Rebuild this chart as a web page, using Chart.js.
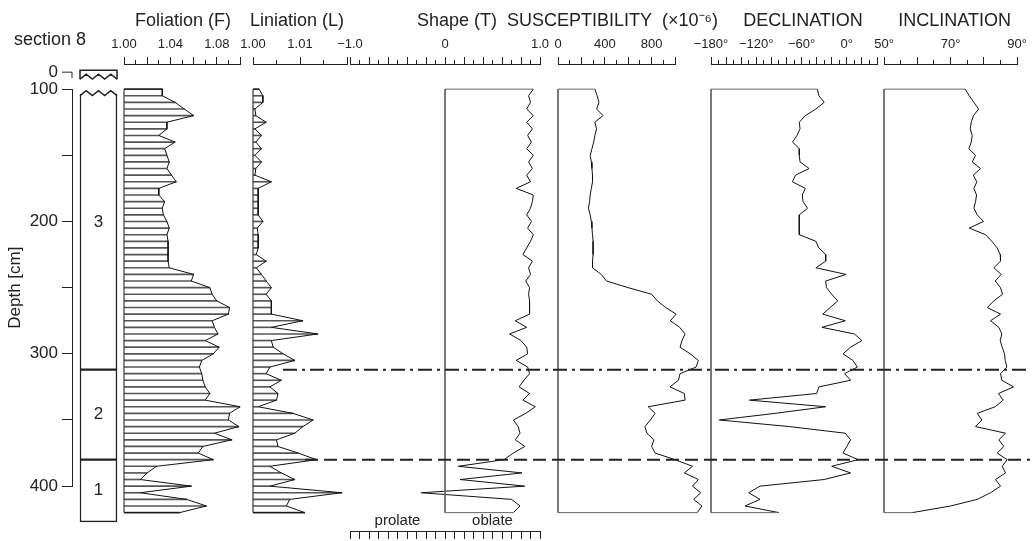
<!DOCTYPE html>
<html>
<head>
<meta charset="utf-8">
<script src="https://cdn.jsdelivr.net/npm/chart.js@4.4.0/dist/chart.umd.min.js"></script>
<style>
  html, body { margin: 0; padding: 0; background: #fff; }
  #wrap { position: relative; width: 1032px; height: 541px; overflow: hidden; }
  #wrap canvas { position: absolute; left: 0; top: 0; }
</style>
</head>
<body>
<div id="wrap"></div>
<script>
// sample depths (cm)
const depths = [100, 105, 110, 115, 120, 125, 130, 135, 140, 145, 150, 155, 160, 165, 170, 175,
  180, 185, 190, 195, 200, 205, 210, 215, 220, 225, 230, 235, 240, 245, 250, 255, 260, 265, 270,
  275, 280, 285, 290, 295, 300, 305, 310, 315, 320, 325, 330, 335, 340, 345, 350, 355, 360, 365,
  370, 375, 380, 385, 390, 395, 400, 405, 410, 415, 420];

const foliation = [1.033, 1.033, 1.044, 1.052, 1.060, 1.037, 1.037, 1.030, 1.044, 1.035, 1.037,
  1.039, 1.037, 1.041, 1.045, 1.030, 1.030, 1.035, 1.033, 1.034, 1.037, 1.039, 1.037, 1.038, 1.038,
  1.038, 1.038, 1.039, 1.060, 1.058, 1.074, 1.076, 1.080, 1.091, 1.090, 1.076, 1.078, 1.081, 1.070,
  1.082, 1.077, 1.067, 1.065, 1.067, 1.068, 1.070, 1.074, 1.070, 1.100, 1.091, 1.090, 1.099, 1.078,
  1.093, 1.068, 1.064, 1.077, 1.028, 1.020, 1.014, 1.058, 1.014, 1.054, 1.071, 1.048];

const lineation = [1.0013, 1.0021, 1.0021, 1.0004, 1.0006, 1.0028, 1.0004, 1.0018, 1.0006, 1.0018,
  1.0004, 1.0018, 1.0006, 1.0004, 1.0039, 1.0011, 1.0011, 1.0011, 1.0011, 1.0011, 1.0021, 1.0009,
  1.0011, 1.0011, 1.0011, 1.0007, 1.0028, 1.0007, 1.0018, 1.0028, 1.0039, 1.0028, 1.0039, 1.0039,
  1.0039, 1.0106, 1.0039, 1.0138, 1.0039, 1.0043, 1.0064, 1.0089, 1.0036, 1.0028, 1.0060, 1.0036,
  1.0053, 1.0050, 1.0011, 1.0085, 1.0128, 1.0106, 1.0089, 1.0050, 1.0053, 1.0096, 1.0135, 1.0036,
  1.0060, 1.0089, 1.0036, 1.0189, 1.0078, 1.0071, 1.0110];

const shapeT = [0.93, 0.88, 0.90, 0.86, 0.93, 0.86, 0.92, 0.87, 0.91, 0.86, 0.93, 0.88, 0.92, 0.86,
  0.90, 0.75, 0.93, 0.92, 0.90, 0.86, 0.91, 0.87, 0.93, 0.90, 0.86, 0.82, 0.92, 0.88, 0.90, 0.85,
  0.89, 0.88, 0.89, 0.89, 0.89, 0.74, 0.86, 0.68, 0.80, 0.86, 0.87, 0.75, 0.87, 0.89, 0.83, 0.78,
  0.89, 0.82, 0.95, 0.85, 0.72, 0.77, 0.79, 0.74, 0.84, 0.72, 0.62, 0.14, 0.81, 0.16, 0.84, -0.25,
  0.70, 0.79, 0.72];

const susceptibility = [315, 335, 350, 330, 385, 315, 330, 315, 305, 290, 275, 285, 290, 295, 295,
  285, 275, 270, 260, 275, 285, 290, 295, 300, 300, 300, 295, 295, 370, 415, 600, 800, 850, 920,
  1010, 960, 1040, 1086, 1060, 1043, 1130, 1200, 1180, 1043, 1029, 957, 1080, 1086, 771, 830, 790,
  743, 760, 820, 800, 830, 1000, 1150, 1080, 1200, 1150, 1220, 1160, 1230, 1190];

const declination = [-39, -37, -30, -41, -55, -63, -62, -66, -72, -63, -63, -62, -50, -68, -72,
  -55, -59, -58, -52, -63, -63, -63, -63, -41, -37, -28, -28, -41, -1, -28, -27, -20, -12, -22, -32,
  -2, -33, 10, 20, 5, -5, 8, 14, -3, 5, -37, -40, -129, -28, -95, -169, -76, -2, 5, 0, -5, 15, -20,
  5, -30, -115, -130, -115, -135, -90];

const inclination = [74.4, 75.6, 77.0, 78.4, 76.9, 76.2, 75.9, 76.5, 76.2, 75.5, 77.5, 76.5, 79.0,
  76.8, 77.9, 77.0, 77.8, 77.5, 77.0, 78.0, 79.9, 75.6, 80.5, 82.4, 84.0, 84.9, 85.0, 83.0, 85.2,
  83.4, 85.0, 85.6, 83.0, 81.0, 85.0, 82.0, 84.5, 85.4, 84.9, 85.5, 86.2, 86.4, 86.9, 85.0, 85.4,
  88.9, 84.4, 85.8, 83.4, 78.0, 79.4, 77.5, 86.5, 84.5, 86.0, 84.0, 87.0, 85.5, 86.5, 83.5, 85.0,
  82.0, 78.0, 70.0, 58.5];

// lithological units of section 8
const unitNames = ['3', '2', '1'];
const unitTops = [100, 312, 380];
const unitBases = [312, 380, 427];

// labelled ticks on each top axis
const foliationTicks = [1.00, 1.04, 1.08];
const lineationTicks = [1.00, 1.01];
const shapeTicks = [-1.0, 0, 1.0];
const suscTicks = [0, 400, 800];
const declTicks = [-180, -120, -60, 0];
const inclTicks = [50, 70, 90];
const shapeEndLabels = ['prolate', 'oblate'];
const shapeEndValues = [-0.5, 0.5];

// ---- layout ----
const W = 1032, H = 541;
const PX_PER_CM = 397 / 300;
const AXIS_Y = 64;
const PANEL_MIN = 81, PANEL_MAX = 427;
const yOf = d => AXIS_Y + (d - PANEL_MIN) * PX_PER_CM;
const PANEL_BOTTOM = yOf(PANEL_MAX);
const FONT = '"Liberation Sans", Arial, Helvetica, sans-serif';

Chart.defaults.font.family = FONT;
Chart.defaults.color = '#222';

const wrap = document.getElementById('wrap');
function newCtx() {
  const c = document.createElement('canvas');
  c.width = W; c.height = H;
  wrap.appendChild(c);
  return c.getContext('2d');
}

const near = (list, v) => list.some(t => Math.abs(t - v) < 1e-6);
const minus = s => String(s).replace('-', '\u2212');
const topD = depths[0], botD = depths[depths.length - 1];
const pts = vals => depths.map((d, i) => ({x: vals[i], y: d}));

function outlineClosed(vals, base) {
  return [{x: base, y: topD}, ...pts(vals), {x: base, y: botD}, {x: base, y: topD}];
}
function frame(vals, base) {
  return [{x: vals[0], y: topD}, {x: base, y: topD}, {x: base, y: botD}, {x: vals[vals.length - 1], y: botD}];
}

// panel heading, centred over the axis (titles are wider than some axes)
const panelTitle = {
  id: 'panelTitle',
  afterDraw(chart, args, opts) {
    const {ctx, chartArea} = chart;
    ctx.save();
    ctx.font = '18px ' + FONT;
    ctx.fillStyle = '#222';
    ctx.textAlign = 'center';
    ctx.textBaseline = 'middle';
    ctx.fillText(opts.text, (chartArea.left + chartArea.right) / 2 + (opts.shift || 0), 21);
    ctx.restore();
  }
};

function panel(o) {
  return new Chart(newCtx(), {
    type: 'line',
    data: {datasets: o.datasets},
    options: {
      responsive: false,
      animation: false,
      indexAxis: 'y',
      layout: {padding: {left: o.left, right: W - o.right, top: 0, bottom: H - PANEL_BOTTOM}},
      plugins: {
        legend: {display: false}, tooltip: {enabled: false},
        panelTitle: {text: o.title, shift: o.shift}
      },
      elements: {point: {radius: 0}, line: {borderWidth: 1, tension: 0}},
      scales: {
        x: {
          type: 'linear', position: 'top', min: o.min, max: o.max,
          afterFit: s => { s.height = AXIS_Y; },
          border: {color: '#222', width: 1},
          grid: {
            drawOnChartArea: false, tickLength: 7, tickColor: '#222', tickWidth: 1,
            tickBorderDash: c => o.tall(c.tick.value) ? [] : [0, 3, 4, 20]
          },
          ticks: {
            stepSize: o.step, autoSkip: false, maxRotation: 0, padding: 5,
            font: {size: 13}, color: '#222',
            callback: v => near(o.labels, v) ? o.fmt(v) : ''
          }
        },
        y: {type: 'linear', reverse: true, offset: false, min: PANEL_MIN, max: PANEL_MAX, display: false}
      }
    },
    plugins: [panelTitle]
  });
}

const hatch = (vals, base) => ({
  type: 'bar', data: pts(vals), base: base, barThickness: 1,
  backgroundColor: '#555', borderWidth: 0, clip: false, order: 2
});
const curve = data => ({type: 'line', data, borderColor: '#111', borderWidth: 1, clip: false, order: 1});
const frameSet = data => ({type: 'line', data, borderColor: '#666', borderWidth: 1, clip: false, order: 1});

// Foliation
panel({
  left: 124, right: 240, min: 1.00, max: 1.10, step: 0.01,
  tall: v => Math.round(v * 100) % 2 === 0, labels: foliationTicks, fmt: v => v.toFixed(2),
  title: 'Foliation (F)', shift: 1,
  datasets: [hatch(foliation, 1), curve(outlineClosed(foliation, 1))]
});
// Lineation
panel({
  left: 253, right: 347, min: 1.00, max: 1.02, step: 0.005,
  tall: v => Math.round(v * 200) % 2 === 0, labels: lineationTicks, fmt: v => v.toFixed(2),
  title: 'Liniation (L)', shift: -3,
  datasets: [hatch(lineation, 1), curve(outlineClosed(lineation, 1))]
});
// Shape
panel({
  left: 350, right: 540, min: -1, max: 1, step: 0.1,
  tall: v => Math.round(v * 10) % 2 === 0, labels: shapeTicks,
  fmt: v => Math.abs(v) < 1e-6 ? '0' : minus(v.toFixed(1)),
  title: 'Shape (T)', shift: 12,
  datasets: [frameSet(frame(shapeT, 0)), curve(pts(shapeT))]
});
// Susceptibility
panel({
  left: 558, right: 675, min: 0, max: 1000, step: 100,
  tall: v => Math.round(v / 100) % 2 === 0, labels: suscTicks, fmt: v => String(v),
  title: 'SUSCEPTIBILITY  (\u00d710\u207b\u2076)', shift: -4,
  datasets: [frameSet(frame(susceptibility, 0)), curve(pts(susceptibility))]
});
// Declination
panel({
  left: 711, right: 877, min: -180, max: 40, step: 10,
  tall: v => Math.round(v / 10) % 2 === 0, labels: declTicks, fmt: v => minus(v) + '\u00b0',
  title: 'DECLINATION', shift: 9,
  datasets: [frameSet(frame(declination, -180)), curve(pts(declination))]
});
// Inclination
panel({
  left: 884, right: 1018, min: 50, max: 90, step: 5,
  tall: v => Math.round(v) % 10 === 0, labels: inclTicks, fmt: v => v + '\u00b0',
  title: 'INCLINATION', shift: 4,
  datasets: [frameSet(frame(inclination, 50)), curve(pts(inclination))]
});

// bottom prolate / oblate scale under the shape panel
new Chart(newCtx(), {
  type: 'line',
  data: {datasets: []},
  options: {
    responsive: false, animation: false,
    layout: {padding: {left: 350, right: W - 540, top: 0, bottom: 2}},
    plugins: {legend: {display: false}, tooltip: {enabled: false}},
    scales: {
      x: {
        type: 'linear', position: 'top', min: -1, max: 1,
        afterFit: s => { s.height = 531; },
        border: {color: '#222', width: 1},
        grid: {
          drawOnChartArea: true, drawTicks: false, color: '#222', lineWidth: 1,
          borderDash: c => Math.round(c.tick.value * 10) % 2 === 0 ? [] : [4, 20]
        },
        ticks: {
          stepSize: 0.1, autoSkip: false, maxRotation: 0, padding: 1, font: {size: 15}, color: '#222',
          callback: v => {
            const i = shapeEndValues.findIndex(t => Math.abs(t - v) < 1e-6);
            return i >= 0 ? shapeEndLabels[i] : '';
          }
        }
      },
      y: {type: 'linear', min: 0, max: 1, display: false}
    }
  }
});

// unit boundaries as horizontal reference lines
function boundary(depth, left, dash) {
  new Chart(newCtx(), {
    type: 'line',
    data: {datasets: [{data: [{x: 0, y: depth}, {x: 1, y: depth}], borderColor: '#222',
      borderWidth: 2, borderDash: dash, pointRadius: 0, clip: false}]},
    options: {
      responsive: false, animation: false,
      layout: {padding: {left: left, right: W - 1030, top: AXIS_Y, bottom: H - PANEL_BOTTOM}},
      plugins: {legend: {display: false}, tooltip: {enabled: false}},
      scales: {
        x: {type: 'linear', min: 0, max: 1, display: false},
        y: {type: 'linear', reverse: true, min: PANEL_MIN, max: PANEL_MAX, display: false}
      }
    }
  });
}
boundary(unitTops[1], 283, [14, 5, 3, 5]);
boundary(unitTops[2], 305, [13, 6]);

// lithology column with depth axis
function zig(ctx, l, r, yPeak, amp) {
  const n = 6;
  ctx.beginPath();
  for (let i = 0; i <= n; i++) {
    const x = l + (r - l) * i / n;
    const yy = i % 2 === 0 ? yPeak + amp : yPeak;
    if (i === 0) ctx.moveTo(x, yy); else ctx.lineTo(x, yy);
  }
  ctx.stroke();
}

const lithoDecor = {
  id: 'lithoDecor',
  afterDatasetsDraw(chart) {
    const {ctx, scales: {y}} = chart;
    const bar = chart.getDatasetMeta(0).data[0];
    const l = bar.x - bar.width / 2, r = bar.x + bar.width / 2;
    const yTop = y.getPixelForValue(unitTops[0]);
    ctx.save();
    ctx.strokeStyle = '#222';
    ctx.lineWidth = 1.5;
    // broken top of unit 3
    ctx.fillStyle = '#fff';
    ctx.fillRect(l - 2, yTop - 1, r - l + 4, 6);
    zig(ctx, l, r, yTop + 1.5, 5);
    // detached piece at 0 cm
    const pTop = yTop - 19;
    ctx.beginPath();
    ctx.moveTo(l, pTop + 9); ctx.lineTo(l, pTop); ctx.lineTo(r, pTop); ctx.lineTo(r, pTop + 9);
    ctx.stroke();
    zig(ctx, l, r, pTop + 4, 5);
    // 0 tick
    const ax = chart.chartArea.left, y0 = yTop - 17;
    ctx.lineWidth = 1;
    ctx.beginPath();
    ctx.moveTo(ax - 10, y0); ctx.lineTo(ax, y0); ctx.lineTo(ax, y0 + 6);
    ctx.stroke();
    ctx.fillStyle = '#222';
    ctx.font = '17px ' + FONT;
    ctx.textAlign = 'right'; ctx.textBaseline = 'middle';
    ctx.fillText('0', ax - 14, y0);
    // unit numbers
    ctx.textAlign = 'center';
    chart.data.datasets.forEach((ds, i) => {
      const el = chart.getDatasetMeta(i).data[0];
      ctx.fillText(unitNames[i], el.x, (el.y + el.base) / 2 - (i === 0 ? 7 : 0));
    });
    // section label
    ctx.font = '18px ' + FONT;
    ctx.textAlign = 'left';
    ctx.fillText('section 8', 14, 40);
    ctx.restore();
  }
};

new Chart(newCtx(), {
  type: 'bar',
  data: {
    labels: ['section 8'],
    datasets: unitNames.map((n, i) => ({
      label: n, data: [[unitTops[i], unitBases[i]]],
      backgroundColor: '#fff', borderColor: '#222', borderWidth: 1.5,
      borderSkipped: i === 0 ? 'start' : false,
      barThickness: 37, grouped: false, clip: false
    }))
  },
  options: {
    responsive: false, animation: false,
    layout: {padding: {left: 0, right: W - 125, top: yOf(100), bottom: H - yOf(400)}},
    plugins: {legend: {display: false}, tooltip: {enabled: false}},
    scales: {
      x: {display: false},
      y: {
        type: 'linear', reverse: true, min: 100, max: 400, position: 'left',
        afterFit: s => { s.width = 72; },
        border: {color: '#222', width: 1},
        grid: {drawOnChartArea: false, tickLength: 10, tickColor: '#222'},
        ticks: {
          stepSize: 50, autoSkip: false, padding: 4, font: {size: 17}, color: '#222',
          callback: v => v % 100 === 0 ? String(v) : ''
        },
        title: {display: true, text: 'Depth [cm]', font: {size: 17}, color: '#222', padding: {top: 5, bottom: 0}}
      }
    }
  },
  plugins: [lithoDecor]
});
</script>
</body>
</html>
